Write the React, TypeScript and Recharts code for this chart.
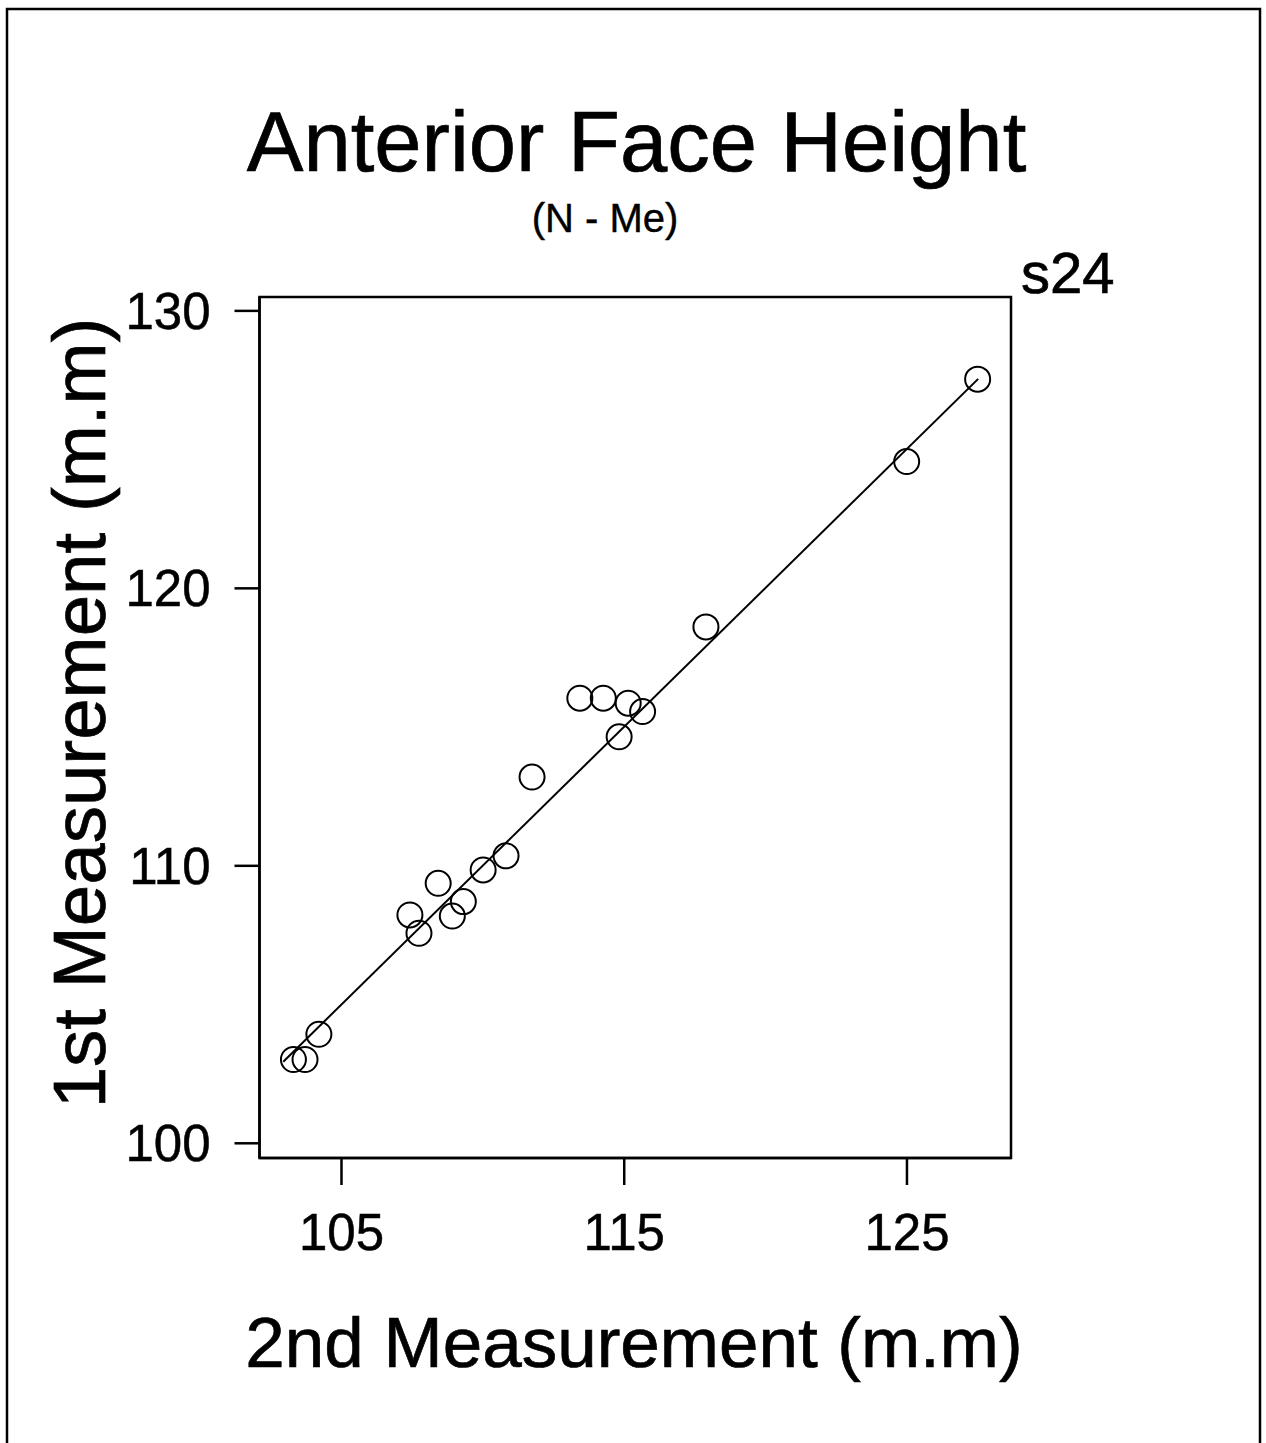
import React from 'react';
import { ScatterChart, XAxis, YAxis, Scatter, ReferenceArea } from 'recharts';

const secondMeasurement = [
  103.3, 103.71, 104.2, 107.42, 107.74, 108.42, 108.92, 109.31, 110.01, 110.82,
  111.74, 113.43, 114.26, 115.14, 115.65, 114.82, 117.89, 124.99, 127.5,
];
const firstMeasurement = [
  103.02, 103.02, 103.93, 108.23, 107.57, 109.37, 108.19, 108.71, 109.85, 110.36,
  113.2, 116.04, 116.04, 115.86, 115.56, 114.65, 118.61, 124.57, 127.54,
];

// fitted line end points
const lineX = [102.94, 127.52];
const lineY = [102.94, 127.55];

const xTicks = [105, 115, 125];
const yTicks = [100, 110, 120, 130];
const xDomain: [number, number] = [102.1, 128.68];
const yDomain: [number, number] = [99.47, 130.5];

const points = secondMeasurement.map((x, i) => ({ x, y: firstMeasurement[i] }));
const fitLine = lineX.map((x, i) => ({ x, y: lineY[i] }));

const FONT = '"Liberation Sans", Arial, Helvetica, sans-serif';

const OpenCircle = (props: any) => (
  <circle cx={props.cx} cy={props.cy} r={12.5} fill="none" stroke="#000" strokeWidth={2} />
);

const NoDot = () => <g />;

export default function App() {
  const tickStyle = { fill: '#000', stroke: '#000', strokeWidth: 0.5, fontSize: 51, fontFamily: FONT };
  return (
    <div style={{ position: 'absolute', left: 0, top: 0, width: 1266, height: 1443, background: '#fff', overflow: 'hidden' }}>
      <ScatterChart
        width={1266}
        height={1443}
        margin={{ top: 297, right: 255, bottom: 225, left: 159.5 }}
      >
        <XAxis
          type="number"
          dataKey="x"
          domain={xDomain}
          ticks={xTicks}
          allowDataOverflow
          height={60}
          tickSize={27}
          tickMargin={29}
          axisLine={{ stroke: '#000', strokeWidth: 2.5 }}
          tickLine={{ stroke: '#000', strokeWidth: 2.5 }}
          tick={tickStyle}
        />
        <YAxis
          type="number"
          dataKey="y"
          domain={yDomain}
          ticks={yTicks}
          allowDataOverflow
          width={100}
          tickSize={25}
          tickMargin={24}
          axisLine={{ stroke: '#000', strokeWidth: 2.5 }}
          tickLine={{ stroke: '#000', strokeWidth: 2.5 }}
          tick={tickStyle}
        />
        <ReferenceArea
          x1={xDomain[0]}
          x2={xDomain[1]}
          y1={yDomain[0]}
          y2={yDomain[1]}
          fill="none"
          fillOpacity={0}
          stroke="#000"
          strokeWidth={2.5}
          ifOverflow="visible"
        />
        <Scatter
          data={fitLine}
          line={{ stroke: '#000', strokeWidth: 2 }}
          lineType="joint"
          shape={NoDot}
          isAnimationActive={false}
        />
        <Scatter data={points} shape={OpenCircle} isAnimationActive={false} />
      </ScatterChart>
      <svg
        width={1266}
        height={1443}
        style={{ position: 'absolute', left: 0, top: 0, pointerEvents: 'none' }}
      >
        <rect x={7} y={9} width={1253} height={1450} fill="none" stroke="#000" strokeWidth={2.5} />
        <g fontFamily={FONT} fill="#000" stroke="#000" strokeWidth={0.7}>
          <text x={636.5} y={171} textAnchor="middle" fontSize={85}>
            Anterior Face Height
          </text>
          <text x={605} y={232} textAnchor="middle" fontSize={40} strokeWidth={0.4}>
            (N - Me)
          </text>
          <text x={1021} y={293} fontSize={58}>
            s24
          </text>
          <text x={634} y={1367} textAnchor="middle" fontSize={71}>
            2nd Measurement (m.m)
          </text>
          <text
            x={105}
            y={713}
            textAnchor="middle"
            fontSize={74.5}
            transform="rotate(-90, 105, 713)"
          >
            1st Measurement (m.m)
          </text>
        </g>
      </svg>
    </div>
  );
}
